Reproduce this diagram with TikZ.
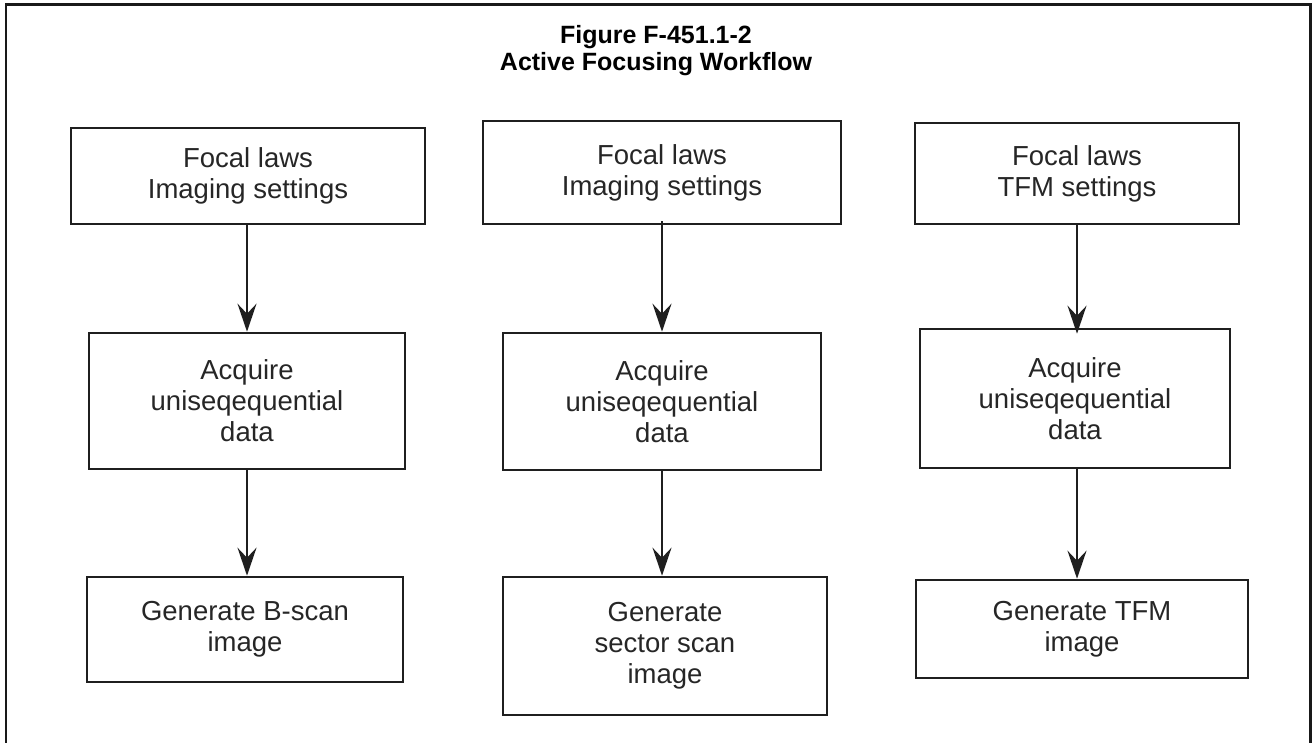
\documentclass[tikz,border=0pt]{standalone}
\usepackage{fontspec}
\setmainfont{Liberation Sans}
\usetikzlibrary{arrows.meta}
\begin{document}
\begin{tikzpicture}[x=1pt,y=-1pt,
  box/.style={draw=black!88, line width=2.6pt, align=center, inner sep=0pt,
    font=\fontsize{27.5}{31}\selectfont, text=black!85},
  arr/.style={draw=black!88, line width=2.2pt, -{Stealth[length=28pt,width=19pt,inset=10pt]}},
  frame/.style={draw=black!90, line width=2.8pt}]
\useasboundingbox (0,0) rectangle (1312,742);
\draw[frame] (6,745) -- (6,4.5) -- (1310.5,4.5) -- (1310.5,745);
\node[font=\bfseries\fontsize{25}{27}\selectfont, align=center, anchor=north] (title) at (656,22) {Figure F-451.1-2\\Active Focusing Workflow};
% column 1
\node[box, minimum width=354pt, minimum height=96pt] (A1) at (248,176) {Focal laws\\Imaging settings};
\node[box, minimum width=316pt, minimum height=136pt] (B1) at (247,401) {Acquire\\uniseqequential\\data};
\node[box, minimum width=316pt, minimum height=105pt] (C1) at (245,629.5) {Generate B-scan\\image};
% column 2
\node[box, minimum width=358pt, minimum height=103pt] (A2) at (662,172.5) {Focal laws\\Imaging settings};
\node[box, minimum width=318pt, minimum height=137pt] (B2) at (662,401.5) {Acquire\\uniseqequential\\data};
\node[box, minimum width=324pt, minimum height=138pt] (C2) at (665,646) {Generate\\sector scan\\image};
% column 3
\node[box, minimum width=324pt, minimum height=101pt] (A3) at (1077,173.5) {Focal laws\\TFM settings};
\node[box, minimum width=310pt, minimum height=139pt] (B3) at (1075,398.5) {Acquire\\uniseqequential\\data};
\node[box, minimum width=332pt, minimum height=98pt] (C3) at (1082,629) {Generate TFM\\image};
% arrow columns
\coordinate (x1) at (247,0);
\coordinate (x2) at (662,0);
\coordinate (x3) at (1077,0);
\draw[arr] (A1.south -| x1) -- (B1.north -| x1);
\draw[arr] (B1.south -| x1) -- (C1.north -| x1);
\draw[arr] ([yshift=4pt]A2.south -| x2) -- (B2.north -| x2);
\draw[arr] (B2.south -| x2) -- (C2.north -| x2);
\draw[arr] (A3.south -| x3) -- ([yshift=-6pt]B3.north -| x3);
\draw[arr] (B3.south -| x3) -- (C3.north -| x3);
\end{tikzpicture}
\end{document}
